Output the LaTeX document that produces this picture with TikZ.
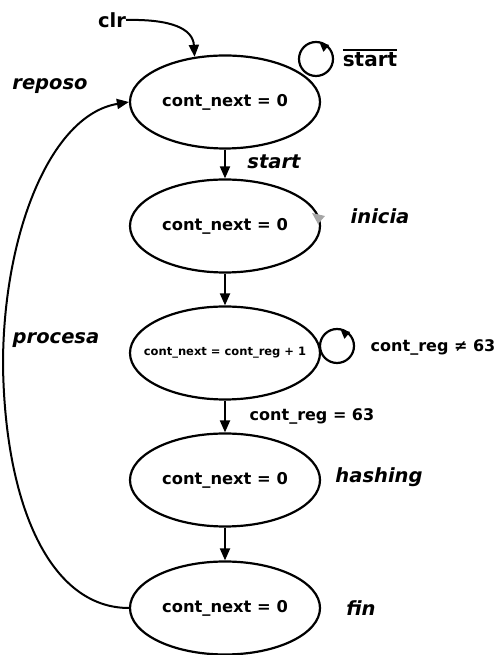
\documentclass[tikz,border=0pt]{standalone}
\usepackage{fontspec}
\setmainfont{DejaVu Sans}
\usetikzlibrary{arrows.meta,shapes.geometric}
\newcommand{\ovlbar}[1]{\vbox{\hrule height 1.8pt \kern 1.5pt \hbox{#1}}}
\begin{document}
\begin{tikzpicture}[x=1pt,y=1pt,
  state/.style={draw,ellipse,line width=2.2pt,minimum width=190pt,minimum height=93pt,inner sep=0pt,font=\fontsize{16.3}{18}\selectfont\bfseries},
  lab/.style={inner sep=0pt,font=\fontsize{19.5}{22}\selectfont\bfseries\itshape},
  cond/.style={inner sep=0pt,font=\fontsize{16}{18}\selectfont\bfseries},
  tipA/.tip={Triangle[length=12pt,width=10pt]},
  arr/.style={line width=2pt,-tipA},
  loopc/.style={line width=2.2pt}]
\useasboundingbox (0,0) rectangle (498,655);
\node[state] (e1) at (225,553) {\makebox[0pt]{cont\_next = 0}};
\node[state] (e2) at (225,429) {\makebox[0pt]{cont\_next = 0}};
\node[state,font=\fontsize{11.5}{13}\selectfont\bfseries] (e3) at (225,302) {\makebox[0pt]{cont\_next = cont\_reg + 1}};
\node[state] (e4) at (225,175) {\makebox[0pt]{cont\_next = 0}};
\node[state] (e5) at (225,47) {\makebox[0pt]{cont\_next = 0}};

\node[cond,font=\fontsize{19.5}{22}\selectfont\bfseries] (clr) at (112,635) {clr};
\node[lab] (reposo) at (50,569) {reposo};
\node[cond,font=\fontsize{20}{22}\selectfont\bfseries] (nstart) at (370,597) {\ovlbar{start}};
\node[lab] (start) at (274,493) {start};
\node[lab] (inicia) at (380,439) {inicia};
\node[lab] (procesa) at (56,315) {procesa};
\node[cond] (neq) at (433,308) {cont\_reg ≠ 63};
\node[cond] (eq) at (312,239) {cont\_reg = 63};
\node[lab] (hashing) at (379,178) {hashing};
\node[lab] (fin) at (361,47) {fin};

\draw[arr] (e1) -- (e2);
\draw[arr] (e2) -- (e3);
\draw[arr] (e3) -- (e4);
\draw[arr] (e4) -- (e5);

\draw[arr] (clr.east) .. controls (172,636) and (193,626) .. (e1.124);
\draw[arr] (e5.west) .. controls (50,47) and (5,150) .. (3,290)
  .. controls (3,420) and (50,540) .. (e1.west);

\coordinate (l1) at (316,596);
\draw[loopc] (l1) circle[radius=17];
\fill ([shift={(78:17)}]l1) -- ++(-15:10) -- ++(-130:9) -- cycle;
\coordinate (l3) at (337,309);
\draw[loopc] (l3) circle[radius=17];
\fill ([shift={(78:17)}]l3) -- ++(-15:10) -- ++(-130:9) -- cycle;

\fill[gray!70] (312,442) -- (325,439) -- (318,431) -- cycle;
\end{tikzpicture}
\end{document}
